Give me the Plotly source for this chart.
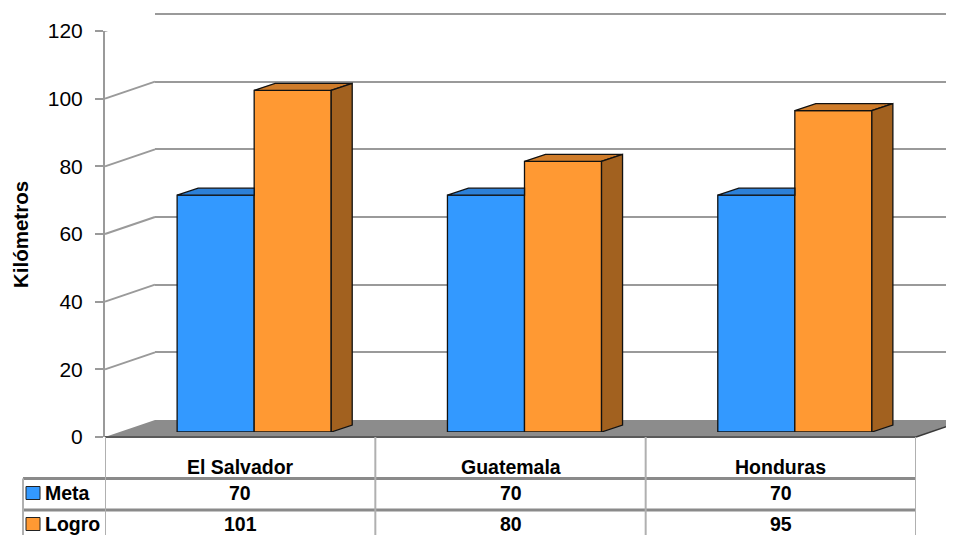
import plotly.graph_objects as go

# ---------------- data ----------------
categories = ["El Salvador", "Guatemala", "Honduras"]
meta = [70, 70, 70]
logro = [101, 80, 95]
series_names = ["Meta", "Logro"]
y_ticks = [0, 20, 40, 60, 80, 100, 120]
y_title = "Kilómetros"

# ---------------- styling ----------------
W, H = 954, 535
OX, OY = 8, 8          # page (body) offset of the figure in the browser
FONT = "Liberation Sans, Arial, sans-serif"
BLUE, BLUE_TOP = "#3399FF", "#2C80D8"
ORANGE, ORANGE_TOP, ORANGE_SIDE = "#FF9933", "#CF7C2A", "#A2611F"
GRID = "#9A9A9A"
FLOOR = "#8C8C8C"


def px(x):
    return (x - OX) / W


def py(y):
    return min(1.0, max(0.0, 1 - (y - OY) / H))


Y_MAX = 120
# front plane (labelled axis), bars plane, back wall plane (screen pixel geometry)
FRONT_X = (105, 916)
FRONT_Y = (437, 31)
BAR_X = (119, 930)
BAR_Y = (432, 26)
BACK_X = (155, 962)
BACK_Y = (420, 14)

n = len(categories)
xs = list(range(n))
bargap = 0.43
bw = (1 - bargap) / 2
cat_px = (BAR_X[1] - BAR_X[0]) / n
unit_px = (BAR_Y[0] - BAR_Y[1]) / Y_MAX
ddx = 21 / cat_px   # bar depth in category units
ddy = 7 / unit_px   # bar depth in value units

# back wall axis gets a little headroom so the top gridline is not clipped
BACK_HEAD = 1.2
back_top_px = BACK_Y[1] - BACK_HEAD * unit_px

fig = go.Figure()

# empty trace creating the back-wall subplot (gridlines)
fig.add_trace(go.Scatter(x=[], y=[], xaxis="x", yaxis="y", showlegend=False, hoverinfo="skip"))

# front faces of bars
fig.add_trace(go.Bar(x=xs, y=meta, name=series_names[0], xaxis="x2", yaxis="y2",
                     marker=dict(color=BLUE, line=dict(color="#111111", width=1.3))))
fig.add_trace(go.Bar(x=xs, y=logro, name=series_names[1], xaxis="x2", yaxis="y2",
                     marker=dict(color=ORANGE, line=dict(color="#111111", width=1.3))))

# 3D faces derived from the data
mt_x, mt_y, lt_x, lt_y, ls_x, ls_y = [], [], [], [], [], []
for i, (m, l) in enumerate(zip(meta, logro)):
    xl_m, xr_m = i - bw, i
    xl_l, xr_l = i, i + bw
    right = xr_m if l >= m else xr_m + ddx
    mt_x += [xl_m, xl_m + ddx, right, xr_m, xl_m, None]
    mt_y += [m, m + ddy, m + ddy, m, m, None]
    lt_x += [xl_l, xl_l + ddx, xr_l + ddx, xr_l, xl_l, None]
    lt_y += [l, l + ddy, l + ddy, l, l, None]
    ls_x += [xr_l, xr_l, xr_l + ddx, xr_l + ddx, xr_l, None]
    ls_y += [0, l, l + ddy, ddy, 0, None]

for fx, fy, col in [(mt_x, mt_y, BLUE_TOP), (lt_x, lt_y, ORANGE_TOP), (ls_x, ls_y, ORANGE_SIDE)]:
    fig.add_trace(go.Scatter(x=fx, y=fy, xaxis="x2", yaxis="y2", mode="lines", fill="toself",
                             fillcolor=col, line=dict(color="#111111", width=1.3),
                             showlegend=False, hoverinfo="skip"))

# empty trace creating the front labelled-axis subplot
fig.add_trace(go.Scatter(x=[], y=[], xaxis="x3", yaxis="y3", showlegend=False, hoverinfo="skip"))

shapes = []
# floor
shapes.append(dict(type="path", xref="paper", yref="paper", layer="below",
                   path=f"M {px(FRONT_X[0])},{py(FRONT_Y[0])} L {px(BACK_X[0])},{py(BACK_Y[0])} "
                        f"L {px(966)},{py(BACK_Y[0])} L {px(FRONT_X[1])},{py(FRONT_Y[0])} Z",
                   fillcolor=FLOOR, line=dict(width=0)))
shapes.append(dict(type="line", xref="paper", yref="paper", layer="below",
                   x0=px(FRONT_X[0]), y0=py(FRONT_Y[0]), x1=px(FRONT_X[1]), y1=py(FRONT_Y[0]),
                   line=dict(color="#5A5A5A", width=2)))
shapes.append(dict(type="line", xref="paper", yref="paper", layer="below",
                   x0=px(FRONT_X[1]), y0=py(FRONT_Y[0]), x1=px(954), y1=py(FRONT_Y[0] - 38 * 17 / 50),
                   line=dict(color="#3A3A3A", width=1.5)))
# left-wall diagonals of the gridlines
for v in y_ticks[1:]:
    shapes.append(dict(type="line", xref="paper", yref="y3", layer="below",
                       x0=px(FRONT_X[0]), y0=v, x1=px(BACK_X[0]), y1=v + 17 / unit_px,
                       line=dict(color=GRID, width=2)))

# data table lines
row_lines = [478.5, 510]
table_bottom = 543
for yl in row_lines:
    shapes.append(dict(type="line", xref="paper", yref="paper",
                       x0=px(23), x1=px(FRONT_X[1]), y0=py(yl), y1=py(yl),
                       line=dict(color="#8A8A8A", width=3)))
for k in range(n + 1):
    shapes.append(dict(type="line", xref="x3", yref="paper",
                       x0=k - 0.5, x1=k - 0.5, y0=py(FRONT_Y[0]), y1=py(table_bottom),
                       line=dict(color="#B0B0B0", width=2)))
shapes.append(dict(type="line", xref="paper", yref="paper",
                   x0=px(23), x1=px(23), y0=py(row_lines[0]), y1=py(table_bottom),
                   line=dict(color="#B0B0B0", width=2)))

# legend keys in table
row_centers = [493, 524]
for rc, col in zip(row_centers, [BLUE, ORANGE]):
    shapes.append(dict(type="rect", xref="paper", yref="paper",
                       x0=px(26), x1=px(40), y0=py(rc - 6.5), y1=py(rc + 6.5),
                       fillcolor=col, line=dict(color="#222222", width=1)))

annotations = []
tfont = dict(family=FONT, size=19.5, color="black", weight="bold")
for i, c in enumerate(categories):
    annotations.append(dict(x=i, y=py(467), xref="x3", yref="paper", text=c, showarrow=False,
                            font=tfont, xanchor="center", yanchor="middle"))
for rc, name, vals in zip(row_centers, series_names, [meta, logro]):
    annotations.append(dict(x=px(43), y=py(rc), xref="paper", yref="paper", text=name,
                            showarrow=False, font=tfont, xanchor="left", yanchor="middle"))
    for i, v in enumerate(vals):
        annotations.append(dict(x=i, y=py(rc), xref="x3", yref="paper", text=str(v),
                                showarrow=False, font=tfont, xanchor="center", yanchor="middle"))
annotations.append(dict(x=px(20), y=py(235), xref="paper", yref="paper", text=y_title,
                        textangle=-90, showarrow=False,
                        font=dict(family=FONT, size=20.5, color="black", weight="bold"),
                        xanchor="center", yanchor="middle"))

hidden_x = dict(range=[-0.5, n - 0.5], visible=False, fixedrange=True)

fig.update_layout(
    width=W, height=H, autosize=False,
    margin=dict(l=0, r=0, t=0, b=0, pad=0, autoexpand=False),
    paper_bgcolor="white", plot_bgcolor="rgba(0,0,0,0)",
    showlegend=False, hovermode=False,
    barmode="group", bargap=bargap, bargroupgap=0,
    font=dict(family=FONT, color="black"),
    # back wall (gridlines)
    xaxis=dict(domain=[px(BACK_X[0]), 1], range=[0, 1], visible=False, automargin=False),
    yaxis=dict(domain=[py(BACK_Y[0]), py(back_top_px)], range=[0, Y_MAX + BACK_HEAD],
               autorange=False, anchor="x", automargin=False,
               tickvals=y_ticks[1:], showgrid=True, gridcolor=GRID, gridwidth=2,
               showticklabels=False, ticks="", showline=False, zeroline=False),
    # bars plane
    xaxis2=dict(domain=[px(BAR_X[0]), px(BAR_X[1])], anchor="y2", automargin=False, **hidden_x),
    yaxis2=dict(domain=[py(BAR_Y[0]), py(BAR_Y[1])], range=[0, Y_MAX], autorange=False,
                anchor="x2", visible=False, automargin=False),
    # front labelled axis
    xaxis3=dict(domain=[px(FRONT_X[0]), px(FRONT_X[1])], anchor="y3", automargin=False, **hidden_x),
    yaxis3=dict(domain=[py(FRONT_Y[0]), py(FRONT_Y[1])], range=[0, Y_MAX], autorange=False,
                anchor="x3", automargin=False,
                tickvals=y_ticks, ticktext=[str(t) for t in y_ticks],
                showgrid=False, zeroline=False, showline=True, linecolor=GRID, linewidth=2,
                ticks="outside", ticklen=8, tickwidth=2, tickcolor=GRID,
                ticklabelstandoff=8, tickfont=dict(family=FONT, size=21, color="black")),
    shapes=shapes, annotations=annotations,
)

fig.write_html("out.html")
